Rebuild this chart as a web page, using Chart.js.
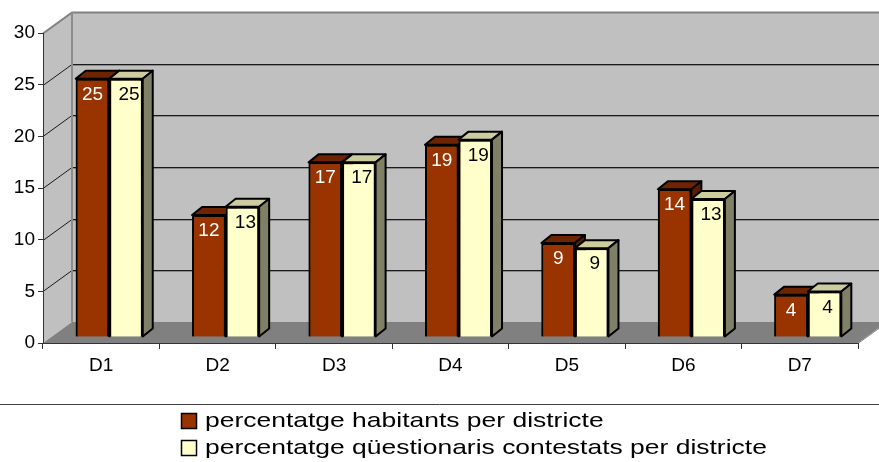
<!DOCTYPE html>
<html>
<head>
<meta charset="utf-8">
<script src="https://cdn.jsdelivr.net/npm/chart.js@4"></script>
<style>
  body { margin: 0; background: #fff; }
  #wrap { width: 879px; height: 462px; }
</style>
</head>
<body>
<div id="wrap"><canvas id="grafic"></canvas></div>
<script>
// dades
const districtes = ['D1', 'D2', 'D3', 'D4', 'D5', 'D6', 'D7'];
const habitants = [25.0, 11.8, 16.9, 18.6, 9.1, 14.3, 4.1];
const questionaris = [25.0, 12.6, 16.9, 19.1, 8.6, 13.35, 4.4];
const ticksY = [0, 5, 10, 15, 20, 25, 30];

const nomHabitants = 'percentatge habitants per districte';
const nomQuestionaris = 'percentatge qüestionaris contestats per districte';

// perspectiva
const BAR_DX = 8, BAR_DY = -6;      // cara frontal de les barres
const PROF_DX = 10, PROF_DY = -8;   // profunditat de les barres
const PARET_DX = 29, PARET_DY = -21; // paret del fons

const colors = [
    { front: '#993300', top: '#6e2400', side: '#5a1e00', text: '#ffffff' },
    { front: '#ffffcc', top: '#cccc9f', side: '#808066', text: '#000000' }
];

const FONT = "'Liberation Sans', Arial, sans-serif";
Chart.defaults.font.family = FONT;
Chart.defaults.font.size = 19;
Chart.defaults.color = '#000';

function poly(ctx, pts, fill, stroke, lw) {
    ctx.beginPath();
    ctx.moveTo(pts[0][0], pts[0][1]);
    for (let i = 1; i < pts.length; i++) ctx.lineTo(pts[i][0], pts[i][1]);
    ctx.closePath();
    if (fill) { ctx.fillStyle = fill; ctx.fill(); }
    if (stroke) { ctx.strokeStyle = stroke; ctx.lineWidth = lw || 1; ctx.stroke(); }
}

const escena3d = {
    id: 'escena3d',
    beforeDraw(chart) {
        const ctx = chart.ctx;
        const a = chart.chartArea;
        const y = chart.scales.y;
        ctx.save();
        // paret del fons
        poly(ctx, [[a.left + PARET_DX, a.top + PARET_DY], [a.right + PARET_DX + 40, a.top + PARET_DY],
            [a.right + PARET_DX + 40, a.bottom + PARET_DY], [a.left + PARET_DX, a.bottom + PARET_DY]], '#c0c0c0');
        // paret lateral
        poly(ctx, [[a.left, a.top], [a.left + PARET_DX, a.top + PARET_DY],
            [a.left + PARET_DX, a.bottom + PARET_DY], [a.left, a.bottom]], '#c0c0c0');
        // terra
        poly(ctx, [[a.left, a.bottom], [a.right, a.bottom],
            [a.right + PARET_DX, a.bottom + PARET_DY], [a.left + PARET_DX, a.bottom + PARET_DY]], '#808080');
        ctx.lineWidth = 1;
        ctx.strokeStyle = '#808080';
        ctx.beginPath();
        ctx.moveTo(a.right, a.bottom + 0.5);
        ctx.lineTo(a.right + PARET_DX, a.bottom + PARET_DY + 0.5);
        ctx.stroke();
        // línies de graella
        ticksY.forEach(v => {
            if (v === 0) return;
            const py = Math.round(y.getPixelForValue(v)) + 0.5;
            if (v === 30) {
                ctx.strokeStyle = '#808080';
                ctx.lineWidth = 2;
            } else {
                ctx.strokeStyle = '#1a1a1a';
                ctx.lineWidth = 1;
            }
            ctx.beginPath();
            ctx.moveTo(a.left, py);
            ctx.lineTo(a.left + PARET_DX, py + PARET_DY);
            ctx.lineTo(a.right + PARET_DX + 40, py + PARET_DY);
            ctx.stroke();
            if (v !== 30) {
                ctx.strokeStyle = '#8a8a8a';
                ctx.beginPath();
                ctx.moveTo(a.left + PARET_DX, py + PARET_DY + 1);
                ctx.lineTo(a.right + PARET_DX + 40, py + PARET_DY + 1);
                ctx.stroke();
            }
        });
        // aresta del fons
        ctx.strokeStyle = '#8c8c8c';
        ctx.lineWidth = 2;
        ctx.beginPath();
        ctx.moveTo(a.left + PARET_DX, a.top + PARET_DY);
        ctx.lineTo(a.left + PARET_DX, a.bottom + PARET_DY);
        ctx.stroke();
        ctx.restore();
    },
    beforeDatasetsDraw(chart) {
        chart.ctx.save();
        chart.ctx.translate(BAR_DX, BAR_DY);
    },
    afterDatasetsDraw(chart) {
        const ctx = chart.ctx;
        // barres en ordre: cara frontal, tapa i lateral, sèrie per sèrie
        chart.data.datasets.forEach((ds, i) => {
            const c = colors[i];
            chart.getDatasetMeta(i).data.forEach(el => {
                el.draw(ctx);
                const p = el.getProps(['x', 'y', 'base', 'width'], true);
                const l = p.x - p.width / 2, r = p.x + p.width / 2;
                ctx.save();
                ctx.lineJoin = 'round';
                poly(ctx, [[l, p.y], [r, p.y], [r + PROF_DX, p.y + PROF_DY], [l + PROF_DX, p.y + PROF_DY]], c.top, '#000', 2);
                poly(ctx, [[r, p.y], [r + PROF_DX, p.y + PROF_DY], [r + PROF_DX, p.base + PROF_DY], [r, p.base]], c.side, '#000', 2);
                ctx.restore();
            });
        });
        // etiquetes de valor
        chart.data.datasets.forEach((ds, i) => {
            const meta = chart.getDatasetMeta(i);
            ctx.save();
            ctx.font = '19px ' + FONT;
            ctx.fillStyle = colors[i].text;
            ctx.textAlign = 'center';
            ctx.textBaseline = 'alphabetic';
            meta.data.forEach((el, j) => {
                ctx.fillText(String(Math.round(ds.data[j])), el.x + i * 3, el.y + 21);
            });
            ctx.restore();
        });
        ctx.restore();
    },
    afterDraw(chart) {
        const ctx = chart.ctx;
        ctx.save();
        ctx.strokeStyle = '#404040';
        ctx.lineWidth = 1;
        ctx.beginPath();
        ctx.moveTo(0, 404.5);
        ctx.lineTo(chart.width, 404.5);
        ctx.stroke();
        ctx.textBaseline = 'middle';
        chart.data.datasets.forEach((ds, i) => {
            const yy = 421 + i * 27;
            ctx.fillStyle = colors[i].front;
            ctx.fillRect(181.5, yy - 7.5, 15, 15);
            ctx.strokeStyle = '#000';
            ctx.lineWidth = 1.5;
            ctx.strokeRect(181.5, yy - 7.5, 15, 15);
            ctx.save();
            ctx.translate(205, yy);
            ctx.scale(1.26, 1);
            ctx.font = '21px ' + FONT;
            ctx.fillStyle = '#000';
            ctx.fillText(ds.label, 0, 0);
            ctx.restore();
        });
        ctx.restore();
    }
};

const data = {
    labels: districtes,
    datasets: [{
        label: nomHabitants,
        data: habitants,
        backgroundColor: colors[0].front,
        borderColor: '#000',
        borderWidth: 2
    },
    {
        label: nomQuestionaris,
        data: questionaris,
        backgroundColor: colors[1].front,
        borderColor: '#000',
        borderWidth: 2
    }]
};

const config = {
    type: 'bar',
    data: data,
    options: {
        responsive: true,
        maintainAspectRatio: false,
        animation: false,
        clip: false,
        categoryPercentage: 0.576,
        barPercentage: 1,
        layout: { padding: { top: 33, right: 21, left: 0, bottom: 0 } },
        plugins: {
            legend: { display: false },
            tooltip: { enabled: false }
        },
        scales: {
            x: {
                grid: { offset: true, drawOnChartArea: false, drawTicks: true, tickLength: 6, color: '#333' },
                border: { display: true, color: '#333', width: 1 },
                ticks: { padding: 5, font: { size: 19 } },
                afterFit: s => { s.height = 119; }
            },
            y: {
                min: 0,
                max: 30,
                afterBuildTicks: s => { s.ticks = ticksY.map(v => ({ value: v })); },
                grid: { drawOnChartArea: false, drawTicks: true, tickLength: 5, color: '#333' },
                border: { display: true, color: '#333', width: 1 },
                ticks: { padding: 3, font: { size: 19 } },
                afterFit: s => { s.width = 43; }
            }
        }
    },
    plugins: [escena3d]
};

const grafic = new Chart(document.getElementById('grafic'), config);
</script>
</body>
</html>
